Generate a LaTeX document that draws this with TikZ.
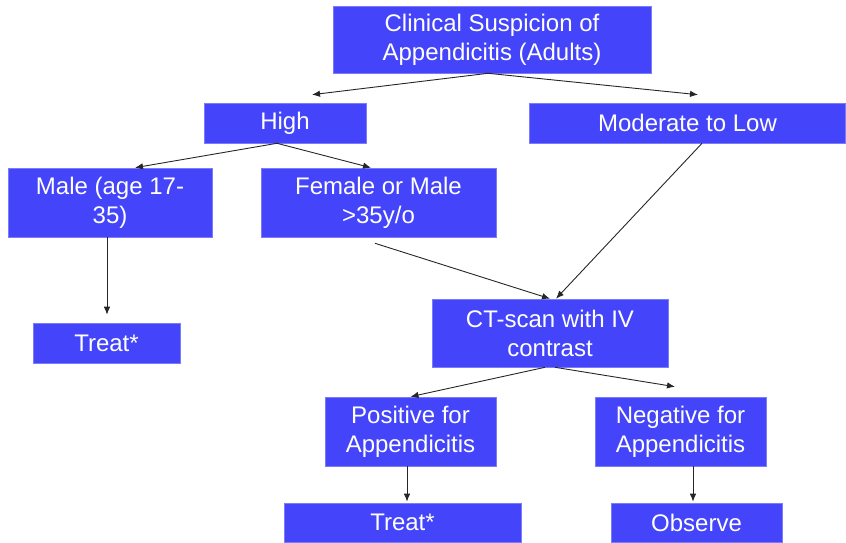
\documentclass[tikz,border=0pt]{standalone}
\usepackage{fontspec}
\setmainfont{Liberation Sans}
\usetikzlibrary{arrows.meta}
\definecolor{boxblue}{RGB}{68,68,250}
\tikzset{
  box/.style={fill=boxblue, draw=boxblue!70!white, line width=0.6pt, text=white,
    align=center, inner sep=0pt, font=\fontsize{24}{29}\selectfont},
  conn/.style={draw=black!85, line width=0.9pt, -{Latex[length=8pt,width=6.5pt]}}
}
\begin{document}
\begin{tikzpicture}[x=1pt,y=-1pt]
\useasboundingbox (0,0) rectangle (846,543);
\node[box, minimum width=318pt, minimum height=67pt] (top) at (492,39.5) {Clinical Suspicion of\\Appendicitis (Adults)};
\node[box, minimum width=162pt, minimum height=40pt] (high) at (285,123) {High};
\node[box, minimum width=316pt, minimum height=40pt] (mod) at (687.5,123) {Moderate to Low};
\node[box, minimum width=204pt, minimum height=69pt] (male) at (110,202.5) {Male (age 17-\\35)};
\node[box, minimum width=235pt, minimum height=69pt] (female) at (378.5,202.5) {Female or Male\\>35y/o};
\node[box, minimum width=147pt, minimum height=40pt] (treatA) at (106.5,343) {Treat*};
\node[box, minimum width=236pt, minimum height=68pt] (ct) at (550,333) {CT-scan with IV\\contrast};
\node[box, minimum width=171pt, minimum height=69pt] (pos) at (410.5,431.5) {Positive for\\Appendicitis};
\node[box, minimum width=171pt, minimum height=69pt] (neg) at (680.5,431.5) {Negative for\\Appendicitis};
\node[box, minimum width=237pt, minimum height=39pt] (treatB) at (402.5,522.5) {Treat*};
\node[box, minimum width=171pt, minimum height=39pt] (obs) at (696.5,522.5) {Observe};

\draw[conn] ([xshift=-4pt]top.south) -- ([xshift=27pt,yshift=8pt]high.north);
\draw[conn] ([xshift=-4pt]top.south) -- ([xshift=10.5pt,yshift=8pt]mod.north);
\draw[conn] ([xshift=-8pt]high.south) -- ([xshift=25pt]male.north);
\draw[conn] ([xshift=-8pt]high.south) -- ([xshift=-7.5pt]female.north);
\draw[conn] ([xshift=-3pt]male.south) -- ([xshift=0.5pt,yshift=8pt]treatA.north);
\draw[conn] ([xshift=-3.5pt,yshift=-6pt]female.south) -- (ct.north);
\draw[conn] ([xshift=14.5pt]mod.south) -- ([xshift=6pt]ct.north);
\draw[conn] ([xshift=-5pt]ct.south) -- (pos.north);
\draw[conn] ([xshift=5pt]ct.south) -- ([xshift=-5.5pt,yshift=10pt]neg.north);
\draw[conn] ([xshift=-3.5pt]pos.south) -- ([xshift=4.5pt,yshift=1pt]treatB.north);
\draw[conn] ([xshift=12.5pt]neg.south) -- ([xshift=-3.5pt,yshift=1pt]obs.north);
\end{tikzpicture}
\end{document}
